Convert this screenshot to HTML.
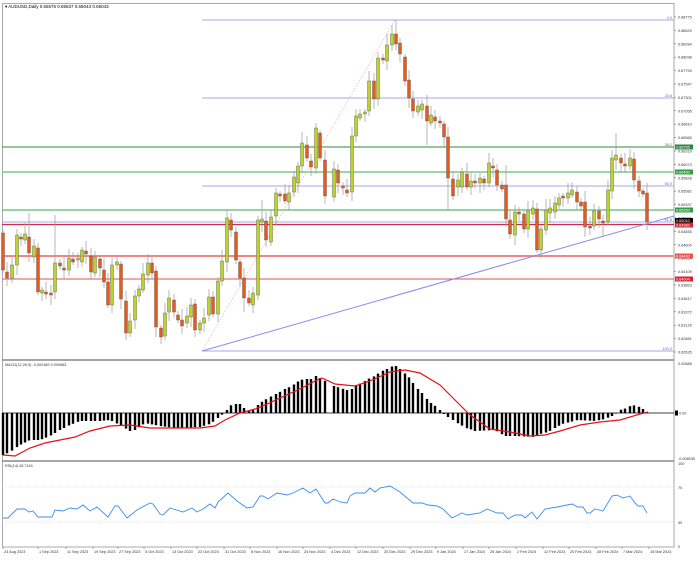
<!DOCTYPE html>
<html><head><meta charset="utf-8"><style>
html,body{margin:0;padding:0;background:#fff;width:699px;height:564px;overflow:hidden}
svg{display:block}
text{font-family:"Liberation Sans",sans-serif;}
</style></head><body>
<svg id="s" width="699" height="564" xmlns="http://www.w3.org/2000/svg">
<rect x="0" y="0" width="699" height="564" fill="#fff"/>
<g id="grid"></g>
<text x="5" y="8" font-size="4.5" fill="#000">▾ AUDUSD,Daily  0.65575 0.65637 0.65043 0.65043</text>
</svg>
<script>
const s=document.getElementById('s');const NS='http://www.w3.org/2000/svg';
function el(t,a,txt){const e=document.createElementNS(NS,t);for(const k in a)e.setAttribute(k,a[k]);if(txt!==undefined)e.textContent=txt;s.appendChild(e);return e;}
function line(x1,y1,x2,y2,c,w,extra){return el('line',Object.assign({x1,y1,x2,y2,stroke:c,'stroke-width':w||1},extra||{}));}
// frames
el('rect',{x:2.5,y:3.5,width:671.5,height:543.5,fill:'none',stroke:'#aaa','stroke-width':1});
line(2,360,674,360,'#888',1.5);line(2,461,674,461,'#888',1.5);
// horizontal levels
const fib=[[20,'0.0'],[98,'23.6'],[147,'38.2'],[186,'50.0'],[222,'61.8'],[351,'100.0']];
fib.forEach(f=>{line(f[1]=='61.8'?2:202,f[0],674,f[0],'#a9a9e6',1);el('text',{x:672,y:f[0]-1,'font-size':3.8,fill:'#6666aa','text-anchor':'end'},f[1]);});
line(2,147,674,147,'#2f8a3a',1);
line(2,172,674,172,'#7cc98a',1.5);
line(2,210,674,210,'#5cb86c',1.2);
line(2,224.5,674,224.5,'#d02a48',1.3);
line(2,256,674,256,'#f08888',2);
line(2,279,674,279,'#e05050',1);
line(202,351,395,20,'#f4a0a0',0.6,{'stroke-dasharray':'1.5,1.5'});
line(202,351,674,216,'#8a8af0',1);
// candles
const C=[[3,233,270,'r'],[7,272,278,'r'],[12,265,278,'g'],[17,235,265,'g'],[21,237,239,'r'],[25,234,240,'g'],[29,237,253,'r'],[34,246,257,'g'],[38,248,292,'r'],[42,290,293,'g'],[46,292,294,'r'],[51,293,295,'r'],[55,263,292,'g'],[60,263,266,'r'],[64,268,270,'r'],[69,258,270,'g'],[73,259,262,'r'],[78,258,260,'g'],[82,250,262,'g'],[86,251,254,'r'],[91,256,272,'r'],[95,257,273,'g'],[100,259,268,'r'],[104,270,282,'r'],[108,282,305,'r'],[112,265,305,'g'],[117,262,265,'g'],[121,264,299,'r'],[126,301,333,'r'],[130,321,333,'g'],[135,296,320,'g'],[139,289,296,'g'],[143,274,290,'g'],[148,263,275,'g'],[152,263,273,'r'],[156,271,327,'r'],[161,328,337,'r'],[165,313,336,'g'],[169,298,312,'g'],[174,300,312,'r'],[178,315,320,'r'],[182,320,326,'r'],[187,316,323,'g'],[191,305,317,'g'],[195,304,330,'r'],[200,323,330,'g'],[204,318,323,'g'],[209,297,315,'g'],[213,297,314,'r'],[218,281,314,'g'],[222,261,281,'g'],[227,218,262,'g'],[231,220,230,'r'],[236,232,260,'r'],[240,262,278,'r'],[244,278,298,'r'],[249,298,303,'r'],[253,293,305,'g'],[258,220,295,'g'],[262,219,222,'g'],[266,221,240,'r'],[271,217,242,'g'],[276,193,216,'g'],[280,194,196,'r'],[285,194,201,'r'],[289,193,202,'g'],[294,177,192,'g'],[298,166,183,'g'],[302,143,166,'g'],[307,145,158,'r'],[311,161,167,'r'],[316,128,168,'g'],[320,133,158,'r'],[325,160,196,'r'],[334,169,197,'g'],[338,170,183,'r'],[343,186,188,'r'],[347,190,193,'r'],[352,136,192,'g'],[356,116,136,'g'],[360,114,118,'g'],[365,112,114,'g'],[369,81,111,'g'],[374,81,99,'r'],[378,58,99,'g'],[383,58,60,'r'],[387,45,61,'g'],[392,34,45,'g'],[396,34,44,'r'],[400,43,54,'r'],[405,57,81,'r'],[409,80,98,'r'],[413,99,111,'r'],[418,106,112,'g'],[422,104,110,'g'],[427,106,121,'r'],[431,115,123,'g'],[435,117,121,'r'],[440,121,123,'r'],[444,124,137,'r'],[448,137,178,'r'],[453,179,196,'r'],[458,180,187,'g'],[462,172,187,'g'],[467,174,187,'r'],[471,181,187,'g'],[475,181,183,'r'],[480,178,183,'g'],[484,179,183,'r'],[489,163,183,'g'],[493,166,168,'r'],[497,170,185,'r'],[502,185,189,'r'],[506,185,219,'r'],[510,220,234,'r'],[515,212,235,'g'],[519,212,214,'r'],[524,214,229,'r'],[528,211,229,'g'],[533,208,214,'g'],[537,209,250,'r'],[541,229,250,'g'],[546,210,230,'g'],[550,208,213,'g'],[555,203,212,'g'],[559,198,205,'g'],[563,196,198,'r'],[568,193,198,'g'],[572,190,195,'g'],[577,192,202,'r'],[581,202,206,'r'],[585,202,227,'r'],[590,226,228,'r'],[594,211,226,'g'],[599,211,219,'r'],[603,221,223,'r'],[608,190,222,'g'],[612,158,191,'g'],[616,155,160,'g'],[621,158,163,'r'],[625,164,166,'r'],[630,158,166,'g'],[634,159,180,'r'],[639,181,191,'r'],[643,191,194,'r'],[647,193,222,'r']];
const longW={616:[133,170],396:[20,50],262:[200,230],87:[212,260],29:[213,260],55:[215,292],244:[270,312],537:[205,253],603:[215,237],448:[137,210],506:[165,222],427:[100,145],210:[280,342]};
C.forEach((c,i)=>{const x=c[0];let hi=c[1]-3-((i*7)%9),lo=c[2]+3+((i*5)%8);
 if(longW[x]){hi=Math.min(hi,longW[x][0]);lo=Math.max(lo,longW[x][1]);}
 line(x,hi,x,lo,'#999',0.7);
 el('rect',{x:x-1.5,y:c[1],width:3,height:Math.max(1,c[2]-c[1]),fill:c[3]=='g'?'#bcd42a':'#e85a1c',stroke:'#555','stroke-width':0.4});});
// right axis labels
for(let i=0;i<26;i++){const v=(0.68775-i*0.002456).toFixed(5);const y=17+i*13.4;line(674,y,676,y,'#555',0.5);el('text',{x:678,y:y+1.5,'font-size':3.8,fill:'#333'},v);}
const box=[[147,'0.66755','#2e8a3a'],[172,'0.66450','#3a9a48'],[210,'0.65250','#3a9a48'],[220.5,'0.65043','#000'],[225,'0.64980','#e02030'],[256,'0.64430','#f05050'],[279,'0.64004','#e02030']];
box.forEach(b=>{el('rect',{x:675,y:b[0]-2.5,width:18,height:5,fill:b[2]});el('text',{x:676,y:b[0]+1.5,'font-size':3.8,fill:'#fff'},b[1]);});
// MACD
el('text',{x:5,y:366,'font-size':3.8,fill:'#333'},'MACD(12,26,9) -0.000189 0.000683');
line(2,413,674,413,'#000',0.8);
const H=[[3,455],[10,452],[20,445],[30,440],[40,440],[50,436],[60,430],[70,425],[80,421],[100,421],[110,420],[120,425],[130,431],[135,430],[145,423],[160,426],[175,428],[200,427],[210,424],[218,418],[224,413],[228,409],[232,404],[240,404],[246,410],[252,411],[258,405],[263,401],[270,397],[278,393],[285,389],[292,386],[300,380],[306,379],[312,379],[316,376],[320,378],[334,386],[350,391],[356,385],[362,383],[368,379],[375,376],[380,372],[387,369],[393,366],[397,366],[402,371],[408,376],[413,383],[418,389],[422,393],[427,399],[432,404],[437,407],[441,411],[446,416],[450,418],[456,422],[461,425],[466,428],[470,429],[475,431],[495,430],[505,436],[515,436],[535,437],[540,434],[548,432],[555,428],[562,424],[570,422],[578,420],[595,421],[605,419],[612,416],[617,413],[620,410],[627,408],[632,405],[637,406],[642,408],[645,411],[648,413]];
function interp(P,x){for(let i=0;i<P.length-1;i++){if(x>=P[i][0]&&x<=P[i+1][0]){const t=(x-P[i][0])/(P[i+1][0]-P[i][0]);return P[i][1]+t*(P[i+1][1]-P[i][1]);}}return P[P.length-1][1];}
C.forEach(c=>{const y=interp(H,c[0]);el('rect',{x:c[0]-1.2,y:Math.min(y,413),width:2.4,height:Math.max(0.6,Math.abs(y-413)),fill:'#000'});});
const S=[[3,455],[15,456],[30,448],[45,443],[60,440],[75,437],[90,431],[110,426],[130,425],[150,428],[200,428],[215,426],[225,420],[240,413],[255,409],[265,405],[280,398],[300,389],[315,381],[322,378],[335,384],[345,385],[355,386],[370,381],[390,372],[405,370],[420,373],[440,385],[455,400],[470,415],[490,429],[510,432],[530,436],[545,435],[560,431],[580,425],[600,422],[620,420],[640,414],[648,412]];
el('polyline',{points:S.map(p=>p.join(',')).join(' '),fill:'none',stroke:'#e8101a','stroke-width':1.2});
el('text',{x:678,y:365,'font-size':3.8,fill:'#333'},'0.00888');
el('rect',{x:675,y:410.5,width:3,height:5,fill:'#000'});el('text',{x:679,y:414.5,'font-size':3.8,fill:'#333'},'0.00');
el('text',{x:678,y:460,'font-size':3.8,fill:'#333'},'-0.008035');
// RSI
el('text',{x:5,y:467,'font-size':3.8,fill:'#333'},'RSI(14) 45.7116');
line(2,487,674,487,'#ccc',0.6,{'stroke-dasharray':'1,1'});line(2,522,674,522,'#ccc',0.6,{'stroke-dasharray':'1,1'});
const R=[[3,518],[8,518],[17,509],[25,509],[29,512],[33,511],[38,517],[52,517],[55,510],[63,511],[70,508],[77,509],[83,505],[90,511],[97,507],[108,517],[115,506],[118,506],[127,518],[137,510],[150,503],[153,504],[160,514],[163,515],[170,508],[183,512],[192,508],[197,512],[203,509],[210,504],[215,508],[218,502],[228,493],[237,501],[247,508],[253,507],[260,496],[263,496],[268,499],[277,493],[287,495],[293,493],[303,488],[310,493],[316,489],[325,503],[328,503],[333,499],[340,502],[347,503],[350,496],[355,493],[365,493],[370,488],[375,492],[380,488],[390,486],[400,492],[407,498],[413,503],[422,503],[428,505],[437,506],[443,509],[452,518],[462,513],[467,515],[480,513],[487,509],[497,513],[503,513],[508,519],[515,515],[522,515],[525,518],[532,512],[537,519],[545,509],[557,507],[572,504],[578,507],[583,507],[587,513],[590,513],[595,509],[603,511],[612,496],[617,495],[623,498],[630,496],[635,503],[638,506],[643,506],[647,513]];
el('polyline',{points:R.map(p=>p.join(',')).join(' '),fill:'none',stroke:'#3a8ef0','stroke-width':0.9});
[[464,'100'],[488,'70'],[523,'30'],[547,'0']].forEach(t=>el('text',{x:678,y:t[0]+1,'font-size':3.8,fill:'#333'},t[1]));
// dates
const D=[[3,'24 Aug 2023'],[38,'1 Sep 2023'],[66,'11 Sep 2023'],[93,'19 Sep 2023'],[118,'27 Sep 2023'],[144,'5 Oct 2023'],[171,'13 Oct 2023'],[197,'23 Oct 2023'],[224,'31 Oct 2023'],[250,'8 Nov 2023'],[277,'16 Nov 2023'],[303,'24 Nov 2023'],[330,'4 Dec 2023'],[356,'12 Dec 2023'],[383,'20 Dec 2023'],[410,'29 Dec 2023'],[436,'9 Jan 2024'],[463,'17 Jan 2024'],[489,'25 Jan 2024'],[516,'2 Feb 2024'],[543,'12 Feb 2024'],[569,'20 Feb 2024'],[596,'28 Feb 2024'],[622,'7 Mar 2024'],[649,'15 Mar 2024']];
D.forEach(d=>{line(d[0],547,d[0],549,'#555',0.5);el('text',{x:d[0]+1,y:553,'font-size':3.8,fill:'#333'},d[1]);});
</script>
</body></html>
